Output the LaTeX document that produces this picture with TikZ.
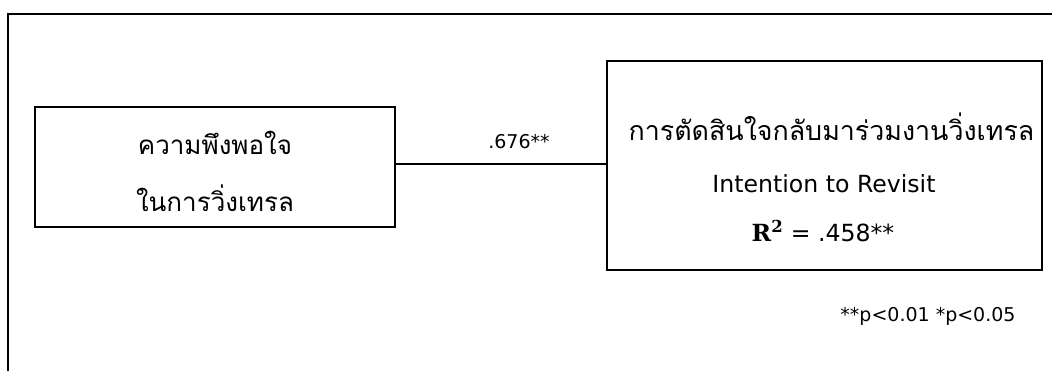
\documentclass[tikz,border=0pt]{standalone}
\usepackage{fontspec}
\setmainfont{DejaVu Sans}
\newfontfamily\thaifont[Script=Thai]{Loma}
\newfontfamily\rserif{DejaVu Serif}
\begin{document}
\begin{tikzpicture}[x=1pt,y=-1pt,
  box/.style={draw,line width=1.2pt,inner sep=0pt},
  thai/.style={anchor=base,inner sep=0pt,font=\thaifont\fontsize{26}{30}\selectfont},
  lat/.style={anchor=base,inner sep=0pt,font=\fontsize{23.6}{28}\selectfont},
  small/.style={anchor=base,inner sep=0pt,font=\fontsize{19}{22}\selectfont},
  frame/.style={line width=1.3pt}]
\useasboundingbox (0,0) rectangle (1052,371);
\coordinate (ftop) at (1052,14);
\coordinate (fcorner) at (8,14);
\coordinate (fbot) at (8,371);
\draw[frame] (ftop) -- (fcorner) -- (fbot);
\node[box,minimum width=360pt,minimum height=120pt] (sat) at (215,167) {};
\node[box,minimum width=435pt,minimum height=209pt] (int) at (824.5,165.5) {};
\node[thai] (s1) at (215,155) {ความพึงพอใจ};
\node[thai] (s2) at (215,212) {ในการวิ่งเทรล};
\node[thai,font=\thaifont\fontsize{26.8}{30}\selectfont] (i1) at (831.5,141) {การตัดสินใจกลับมาร่วมงานวิ่งเทรล};
\node[lat] (i2) at (824,193) {Intention to Revisit};
\node[lat] (i3) at (823,242) {{\rserif\bfseries R\textsuperscript{2}} = .458**};
\draw[line width=1.2pt] (sat.east |- 0,164) -- (int.west |- 0,164);
\node[small] (coef) at (519,149) {.676**};
\node[small] (note) at (928,322) {**p<0.01 *p<0.05};
\end{tikzpicture}
\end{document}
